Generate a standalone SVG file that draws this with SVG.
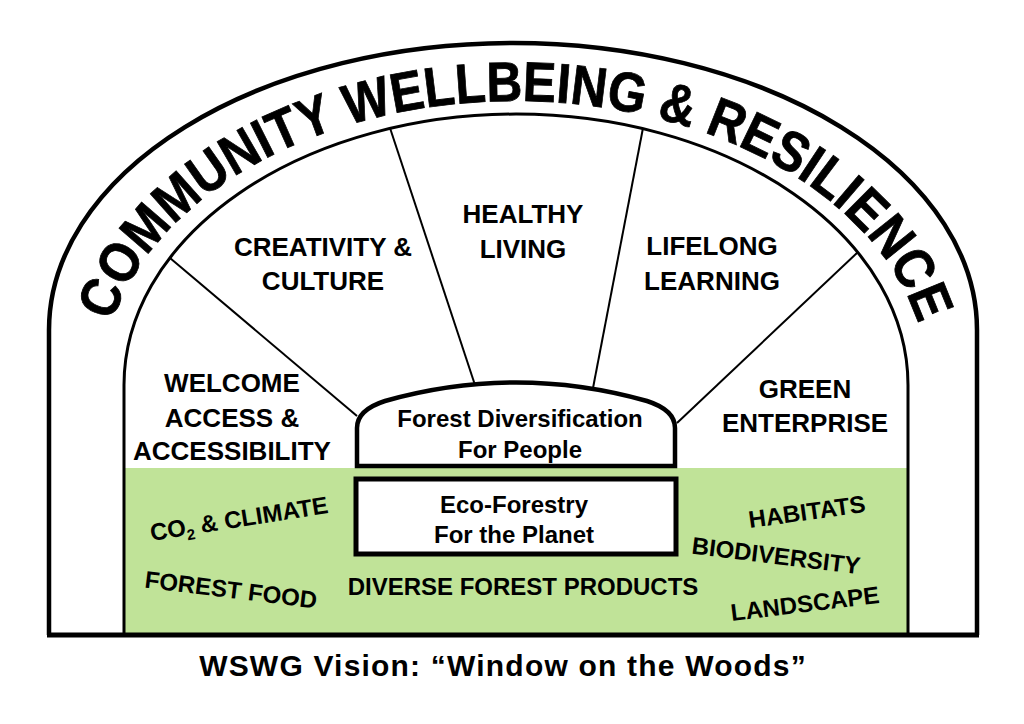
<svg xmlns="http://www.w3.org/2000/svg" width="1024" height="724" viewBox="0 0 1024 724">
<defs>
<style>
.lbl{font-family:"Liberation Sans",Arial,Helvetica,sans-serif;font-weight:bold;fill:#000;text-anchor:middle}
.spoke{font-size:26px}
.green{font-size:24px}
.box{font-size:24px}
.line{fill:none;stroke:#000}
</style>
<path id="arcText" d="M102,385 A413,284 0 0 1 928,385"/>
</defs>
<rect width="1024" height="724" fill="#fff"/>
<g id="arch">
<rect x="124" y="468" width="784" height="167" fill="#c0e398"/>
<path class="line" d="M49,635 V330 A464,287 0 0 1 977,330 V635" stroke-width="4.5"/>
<path class="line" d="M124,635 V385 A392,271 0 0 1 908,385 V635" stroke-width="3"/>
<path class="line" d="M47,635 H979" stroke-width="5"/>
<text class="lbl" style="font-size:56px;text-anchor:start" stroke="#000" stroke-width="0.8"><textPath href="#arcText" startOffset="64" textLength="978" lengthAdjust="spacingAndGlyphs">COMMUNITY WELLBEING &amp; RESILIENCE</textPath></text>
</g>
<g id="connectors" class="line" stroke-width="2">
<line x1="170" y1="258" x2="357" y2="416"/>
<line x1="390" y1="128" x2="475" y2="385"/>
<line x1="643" y1="128" x2="593" y2="388"/>
<line x1="858" y1="252" x2="677" y2="423"/>
</g>
<g id="node-forest-div">
<path d="M357,466 V428 Q357,410 385,401 Q516,364 647,401 Q675,410 675,428 V466 Z" fill="#fff" stroke="#000" stroke-width="4.5"/>
<text class="lbl box" x="520" y="427">Forest Diversification</text>
<text class="lbl box" x="520" y="458">For People</text>
</g>
<g id="node-eco">
<rect x="356" y="479" width="320" height="75" fill="#fff" stroke="#000" stroke-width="5"/>
<text class="lbl box" x="514" y="513">Eco-Forestry</text>
<text class="lbl box" x="514" y="543">For the Planet</text>
</g>
<g id="node-welcome">
<text class="lbl spoke" x="232" y="392">WELCOME</text>
<text class="lbl spoke" x="232" y="427">ACCESS &amp;</text>
<text class="lbl spoke" x="232" y="460">ACCESSIBILITY</text>
</g>
<g id="node-creativity">
<text class="lbl spoke" x="323" y="256">CREATIVITY &amp;</text>
<text class="lbl spoke" x="323" y="290">CULTURE</text>
</g>
<g id="node-healthy">
<text class="lbl spoke" x="523" y="223">HEALTHY</text>
<text class="lbl spoke" x="523" y="258">LIVING</text>
</g>
<g id="node-lifelong">
<text class="lbl spoke" x="712" y="255">LIFELONG</text>
<text class="lbl spoke" x="712" y="290">LEARNING</text>
</g>
<g id="node-green-enterprise">
<text class="lbl spoke" x="805" y="398">GREEN</text>
<text class="lbl spoke" x="805" y="432">ENTERPRISE</text>
</g>
<g id="node-co2">
<text class="lbl green" x="239" y="527" transform="rotate(-9 239 519)">CO<tspan font-size="15" dy="5">2</tspan><tspan dy="-5"> &amp; CLIMATE</tspan></text>
</g>
<g id="node-food">
<text class="lbl green" x="231" y="598" transform="rotate(7 231 590)">FOREST FOOD</text>
</g>
<g id="node-products">
<text class="lbl green" x="523" y="595">DIVERSE FOREST PRODUCTS</text>
</g>
<g id="node-habitats">
<text class="lbl green" x="807" y="520" transform="rotate(-8 807 512)">HABITATS</text>
</g>
<g id="node-biodiversity">
<text class="lbl green" x="776" y="564" transform="rotate(7 776 556)">BIODIVERSITY</text>
</g>
<g id="node-landscape">
<text class="lbl green" x="805" y="612" transform="rotate(-7 805 604)">LANDSCAPE</text>
</g>
<g id="caption">
<text class="lbl" x="503" y="676" style="font-size:30px;letter-spacing:1.2px">WSWG Vision: “Window on the Woods”</text>
</g>
</svg>
